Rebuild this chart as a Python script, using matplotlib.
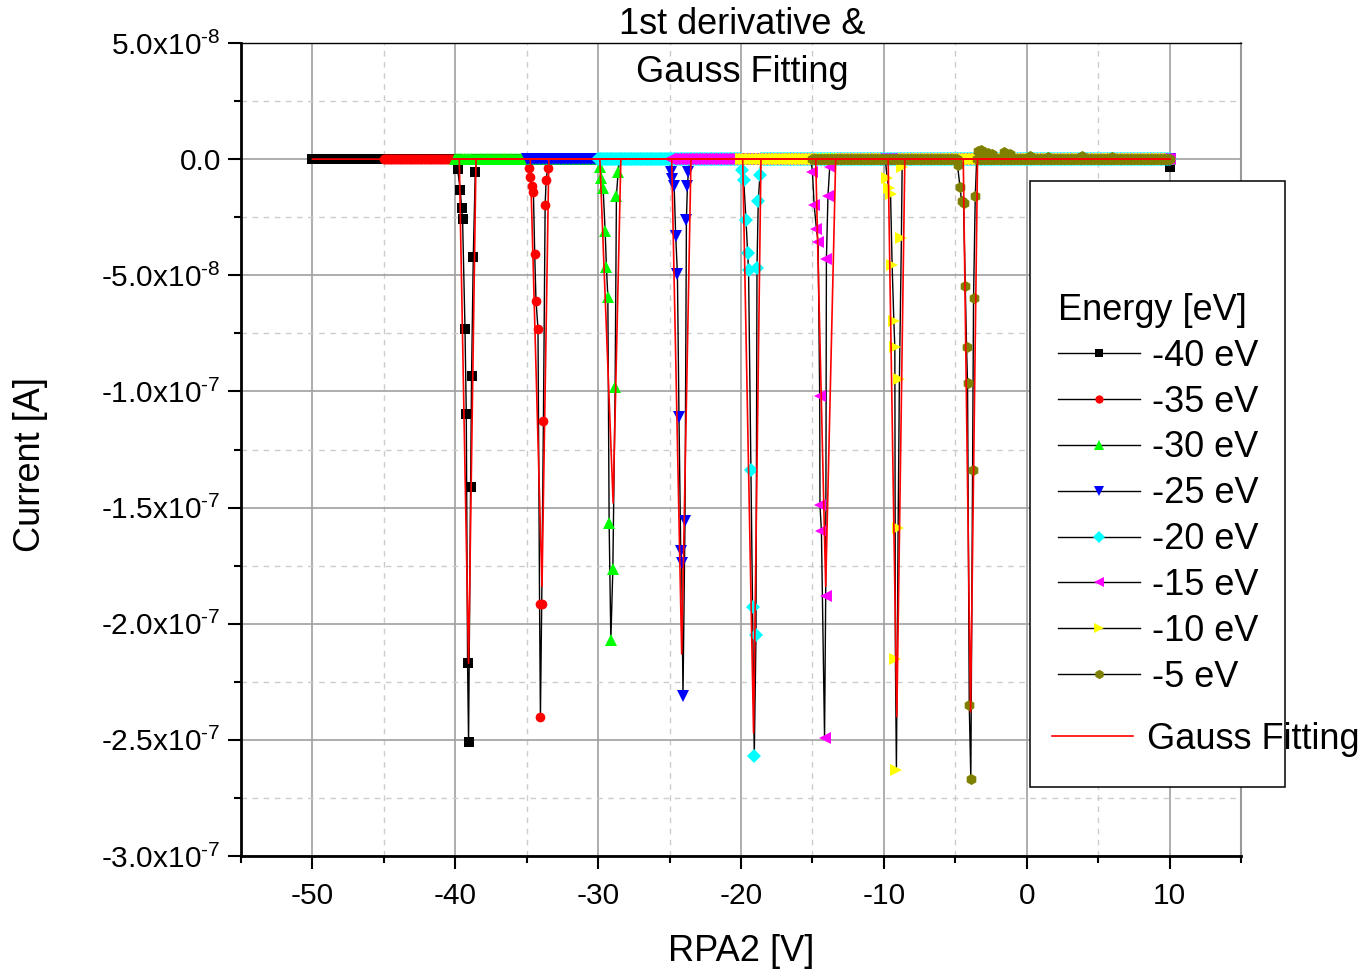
import numpy as np
import matplotlib
matplotlib.use('Agg')
import matplotlib.pyplot as plt
from matplotlib.patches import Rectangle
from matplotlib.ticker import MultipleLocator, FuncFormatter

plt.rcParams['font.family'] = ['Liberation Sans', 'DejaVu Sans']
plt.rcParams['mathtext.fontset'] = 'custom'
plt.rcParams['mathtext.rm'] = 'Liberation Sans'
plt.rcParams['mathtext.it'] = 'Liberation Sans:italic'
plt.rcParams['axes.unicode_minus'] = False

# series (energy) info
labels = ['-40 eV', '-35 eV', '-30 eV', '-25 eV', '-20 eV', '-15 eV', '-10 eV', '-5 eV']
scan_start = [-50, -45, -40, -35, -30, -25, -20, -15]   # V, each scan runs up to 10 V
scan_end = 10
scan_step = 0.1
tail_i = [-0.35, 0, 0, 0, 0, 0, 0, 0]   # last point at 10 V (x1e-8 A)

# dip points, voltage [V] and current [x1e-8 A]
dip_v = [
    [-39.84, -39.65, -39.56, -39.49, -39.32, -39.23, -39.14, -39.07, -38.93, -38.86, -38.74, -38.60],
    [-34.86, -34.74, -34.63, -34.53, -34.44, -34.35, -34.21, -34.10, -34.04, -33.95, -33.83, -33.71, -33.64, -33.53],
    [-29.88, -29.77, -29.65, -29.51, -29.42, -29.32, -29.23, -29.11, -28.97, -28.81, -28.72, -28.60],
    [-24.92, -24.80, -24.68, -24.57, -24.45, -24.34, -24.22, -24.15, -24.06, -23.92, -23.82, -23.75, -23.68],
    [-19.93, -19.81, -19.65, -19.53, -19.47, -19.30, -19.19, -19.07, -18.95, -18.88, -18.79, -18.67],
    [-15.00, -14.88, -14.72, -14.60, -14.49, -14.47, -14.37, -14.15, -14.07, -14.02, -13.91, -13.79],
    [-9.77, -9.65, -9.53, -9.42, -9.30, -9.23, -9.19, -9.12, -9.00, -8.91, -8.77, -8.72],
    [-4.84, -4.67, -4.56, -4.42, -4.30, -4.21, -4.14, -4.02, -3.91, -3.79, -3.72, -3.60],
]
dip_i = [
    [-0.41, -1.34, -2.11, -2.57, -7.30, -10.99, -21.70, -25.10, -14.13, -9.32, -4.20, -0.54],
    [-0.37, -0.75, -1.17, -1.43, -4.08, -6.10, -7.30, -19.15, -24.00, -19.15, -11.26, -1.97, -0.92, -0.37],
    [-0.34, -0.80, -1.26, -3.10, -4.65, -5.92, -15.68, -20.70, -17.65, -9.83, -1.57, -0.57],
    [-0.57, -0.85, -1.15, -3.30, -4.95, -11.10, -16.85, -17.40, -23.10, -15.57, -2.60, -1.15, -0.57],
    [-0.47, -0.88, -2.63, -4.04, -4.79, -13.39, -19.30, -25.70, -20.50, -4.68, -1.80, -0.70],
    [-0.54, -1.96, -3.00, -3.57, -10.20, -14.90, -16.00, -24.90, -18.80, -4.30, -1.57, -0.36],
    [-0.80, -1.25, -1.52, -4.55, -6.96, -8.10, -21.50, -26.30, -15.90, -9.46, -3.40, -0.36],
    [-0.27, -1.20, -1.80, -1.90, -5.45, -8.10, -9.64, -23.50, -26.70, -13.40, -5.98, -1.60],
]

# small positive bumps on the -5 eV baseline
bump_v = [-3.4, -3.2, -3.0, -2.7, -2.4, -1.6, -1.2, 0.2, 1.5, 3.9, 6.0]
bump_i = [0.35, 0.40, 0.30, 0.25, 0.20, 0.30, 0.20, 0.15, 0.10, 0.15, 0.10]

# Gauss fit curves (vertices), x1e-8 A
fit_v = [
    [-50, -39.72, -39.07, -38.55, 10],
    [-45, -34.75, -33.93, -33.45, 10],
    [-40, -29.88, -28.95, -28.41, 10],
    [-35, -24.85, -24.15, -23.50, 10],
    [-30, -19.88, -19.12, -18.60, 10],
    [-25, -14.77, -14.07, -13.37, 10],
    [-20, -9.70, -9.09, -8.53, 10],
    [-15, -4.44, -3.93, -3.44, 10],
]
fit_i = [
    [0, 0, -21.7, 0, 0],
    [0, 0, -18.4, 0, 0],
    [0, 0, -14.8, 0, 0],
    [0, 0, -21.3, 0, 0],
    [0, 0, -24.7, 0, 0],
    [0, 0, -18.4, 0, 0],
    [0, 0, -24.0, 0, 0],
    [0, 0, -23.8, 0, 0],
]

colors = ['#000000', '#ff0000', '#00ff00', '#0000ff', '#00ffff', '#ff00ff', '#ffff00', '#808000']
markers = ['s', 'o', '^', 'v', 'D', '<', '>', 'h']
msizes = [6.5, 7, 8, 8, 7, 8, 8, 8]

fig = plt.figure(figsize=(13.67, 9.74), dpi=100)
ax = fig.add_axes([0.1763, 0.1211, 0.7315, 0.8348])

handles = []
for k in range(len(labels)):
    base_v = np.round(np.arange(scan_start[k], scan_end - scan_step / 2, scan_step), 2)
    keep = (base_v < min(dip_v[k]) - 0.05) | (base_v > max(dip_v[k]) + 0.05)
    v = list(base_v[keep]) + dip_v[k] + [scan_end]
    i = list(np.zeros(keep.sum())) + dip_i[k] + [tail_i[k]]
    if k == 7:
        v += bump_v
        i += bump_i
    order = np.argsort(v, kind='stable')
    v = np.array(v)[order]
    i = np.array(i)[order] * 1e-8
    ln, = ax.plot(v, i, color='black', lw=1.0, marker=markers[k], ms=msizes[k],
                  mfc=colors[k], mec=colors[k], mew=0, zorder=2, label=labels[k])
    handles.append(ln)

for k in range(len(labels)):
    fl, = ax.plot(fit_v[k], np.array(fit_i[k]) * 1e-8, color='#ff0000', lw=1.2, zorder=3)
    if k == 0:
        fit_handle = fl

ax.set_xlim(-55, 15)
ax.set_ylim(-3e-7, 5e-8)
ax.xaxis.set_major_locator(MultipleLocator(10))
ax.xaxis.set_minor_locator(MultipleLocator(5))
ax.yaxis.set_major_locator(MultipleLocator(5e-8))
ax.yaxis.set_minor_locator(MultipleLocator(2.5e-8))


def fmt_y(val, pos):
    if abs(val) < 1e-12:
        return '0.0'
    e = int(np.floor(np.log10(abs(val)) + 1e-9))
    m = val / 10 ** e
    return '%.1fx10$^{\u2010%d}$' % (m, abs(e))


ax.yaxis.set_major_formatter(FuncFormatter(fmt_y))

ax.grid(which='major', color='#a0a0a0', lw=1.2, ls='-', zorder=0)
ax.grid(which='minor', color='#cccccc', lw=1.0, ls=(0, (4, 4)), zorder=0)
ax.set_axisbelow(True)

ax.tick_params(which='major', direction='out', length=9.5, width=1.5, labelsize=21.5, pad=9)
ax.tick_params(axis='y', which='major', pad=5)
ax.tick_params(which='minor', direction='out', length=5, width=1.5)
for s in ['left', 'bottom']:
    ax.spines[s].set_linewidth(2)
ax.spines['top'].set_linewidth(1.0)
ax.spines['right'].set_linewidth(1.5)
ax.spines['right'].set_color('#999999')

ax.set_xlabel('RPA2 [V]', fontsize=26, va='center')
ax.xaxis.set_label_coords(0.5, -0.118)
ax.set_ylabel('Current [A]', fontsize=26, va='center')
ax.yaxis.set_label_coords(-0.211, 0.481)

fig.text(0.5427, 1 - 25 / 974, '1st derivative &', fontsize=26, ha='center', va='center')
fig.text(0.5427, 1 - 72 / 974, 'Gauss Fitting', fontsize=26, ha='center', va='center')

# legend box
box = Rectangle((1030 / 1367, 1 - 787 / 974), 255 / 1367, 606 / 974, transform=fig.transFigure,
                facecolor='white', edgecolor='black', lw=1.1, clip_on=False, zorder=8)
ax.add_patch(box)

leg1 = ax.legend(handles=handles, title='Energy [eV]', fontsize=26, title_fontsize=26,
                 frameon=False, loc='upper left', alignment='left', markerscale=0.85,
                 bbox_to_anchor=(1058 / 1367, 1 - 293 / 974), bbox_transform=fig.transFigure,
                 borderpad=0, borderaxespad=0, handlelength=2.27, handletextpad=0.33,
                 labelspacing=0.3)
leg1.set_zorder(9)
ax.add_artist(leg1)
leg2 = ax.legend(handles=[fit_handle], labels=['Gauss Fitting'], fontsize=26, frameon=False,
                 loc='upper left', bbox_to_anchor=(1052 / 1367, 1 - 722 / 974),
                 bbox_transform=fig.transFigure, borderpad=0, borderaxespad=0,
                 handlelength=2.25, handletextpad=0.39)
leg2.set_zorder(9)

fig.savefig('out.png', dpi=100)
